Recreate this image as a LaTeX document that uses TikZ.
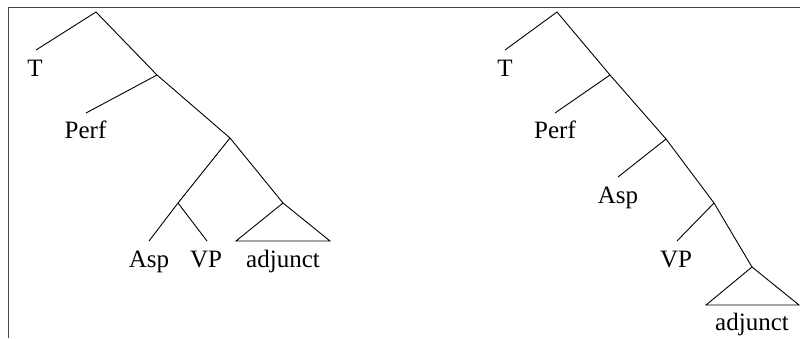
\documentclass[tikz,border=0pt]{standalone}
\usepackage{fontspec}
\setmainfont{Liberation Serif}
\begin{document}
\begin{tikzpicture}[x=1pt,y=-1pt,
  edge/.style={line width=0.9pt,black},
  lbl/.style={anchor=base,inner sep=0pt,font=\fontsize{25}{30}\selectfont},
  frame/.style={line width=1.6pt,draw={rgb,255:red,70;green,70;blue,70}}]
\useasboundingbox (0,0) rectangle (800,338);
\draw[frame] (8.3,338) -- (8.3,7.5) -- (800,7.5);
% left tree
\coordinate (a0) at (96,12);
\coordinate (aT) at (36,50);
\coordinate (a1) at (157,75);
\coordinate (aPerf) at (86,113);
\coordinate (a2) at (230,138);
\coordinate (a3) at (178,203);
\coordinate (aAsp) at (149,241);
\coordinate (aVP) at (207,241);
\coordinate (aAdj) at (283,203);
\coordinate (aL) at (236,241);
\coordinate (aR) at (330,241);
\draw[edge] (aT) -- (a0) -- (a1) -- (a2) -- (aAdj);
\draw[edge] (aPerf) -- (a1);
\draw[edge] (a2) -- (a3) -- (aAsp);
\draw[edge] (a3) -- (aVP);
\draw[edge] (aAdj) -- (aL) -- (aR) -- cycle;
\node[lbl] (lT) at (35,76) {T};
\node[lbl] (lPerf) at (85.5,138) {Perf};
\node[lbl] (lAsp) at (149,267) {Asp};
\node[lbl] (lVP) at (206,267) {VP};
\node[lbl] (lAdj) at (283,267) {adjunct};
% right tree
\coordinate (b0) at (557,12);
\coordinate (bT) at (505,50);
\coordinate (b1) at (610,75);
\coordinate (bPerf) at (555,113);
\coordinate (b2) at (666,139);
\coordinate (bAsp) at (618,177);
\coordinate (b3) at (714,203);
\coordinate (bVP) at (677,241);
\coordinate (bAdj) at (752,267);
\coordinate (bL) at (706,305);
\coordinate (bR) at (799,305);
\draw[edge] (bT) -- (b0) -- (b1) -- (b2) -- (b3) -- (bAdj);
\draw[edge] (bPerf) -- (b1);
\draw[edge] (bAsp) -- (b2);
\draw[edge] (bVP) -- (b3);
\draw[edge] (bAdj) -- (bL) -- (bR) -- cycle;
\node[lbl] (rT) at (505,76) {T};
\node[lbl] (rPerf) at (555,138) {Perf};
\node[lbl] (rAsp) at (618,203) {Asp};
\node[lbl] (rVP) at (676,267) {VP};
\node[lbl] (rAdj) at (752,330) {adjunct};
\end{tikzpicture}
\end{document}
